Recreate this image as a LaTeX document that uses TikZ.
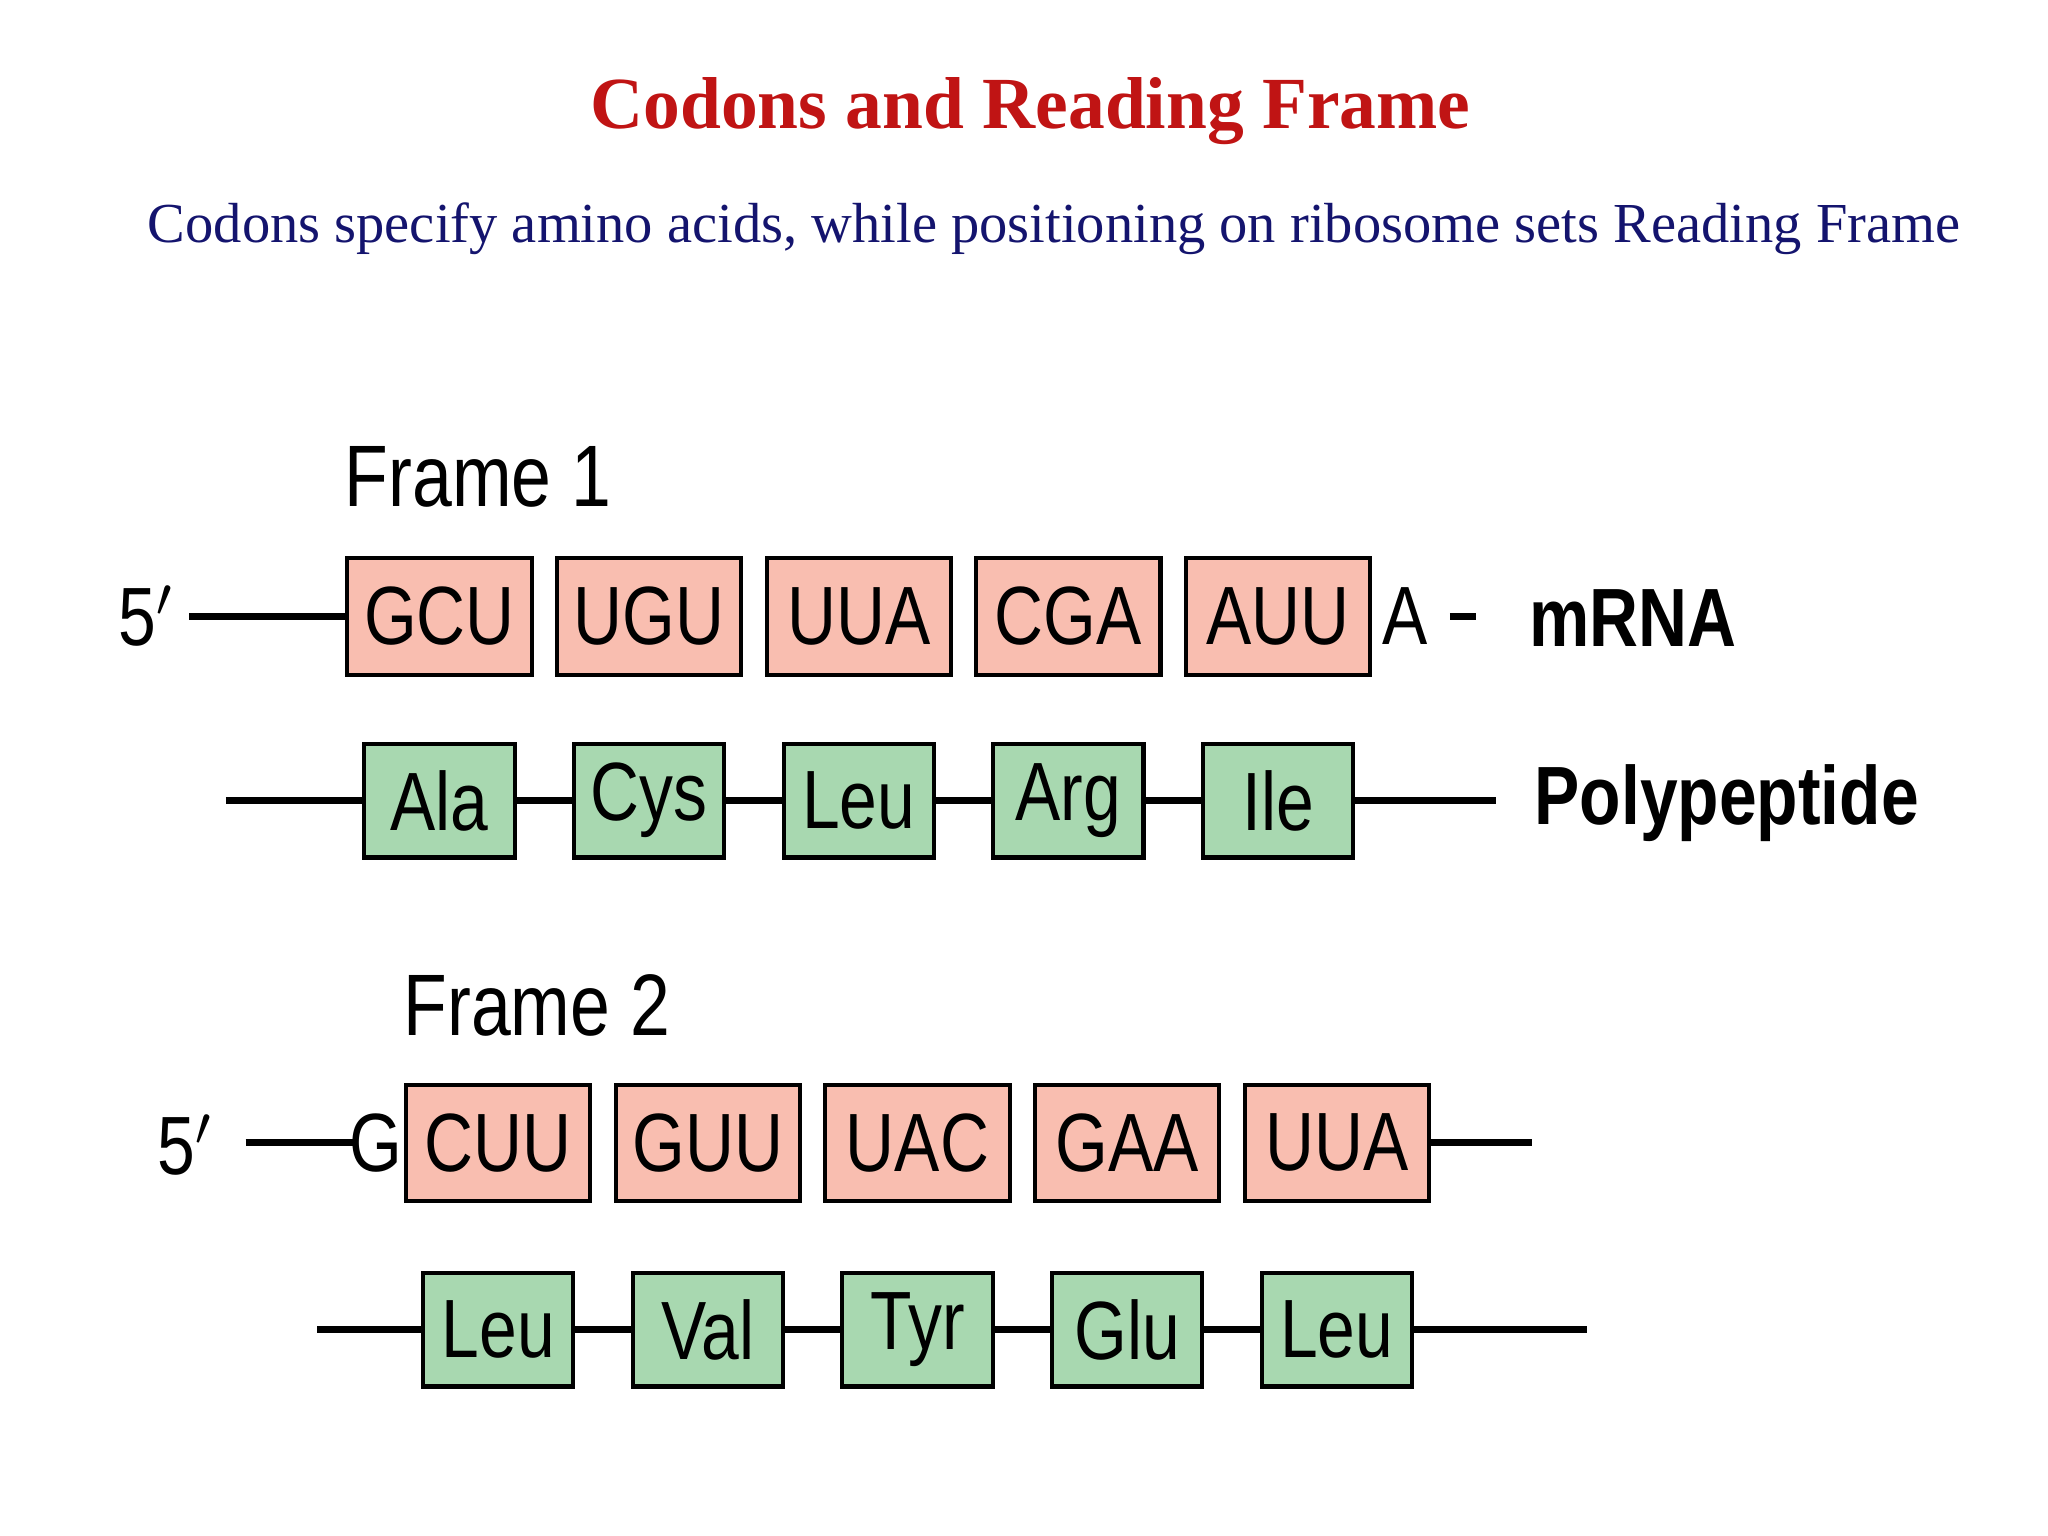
\documentclass[tikz,border=0pt]{standalone}
\usepackage{fontspec}
\setmainfont{Liberation Serif}
\newfontfamily\dsans[FakeStretch=0.82]{Liberation Sans}
\definecolor{ttl}{RGB}{192,20,20}
\definecolor{sub}{RGB}{20,20,110}
\definecolor{pinkbox}{RGB}{249,190,176}
\definecolor{greenbox}{RGB}{168,216,176}
\begin{document}
\begin{tikzpicture}[x=0.01cm,y=-0.01cm,
  codon/.style={draw=black,line width=0.9pt,fill=pinkbox,minimum width=1.41cm,minimum height=0.89cm,inner sep=0pt,font=\dsans\fontsize{18}{18}\selectfont},
  amino/.style={draw=black,line width=0.9pt,fill=greenbox,minimum width=1.15cm,minimum height=0.87cm,inner sep=0pt,font=\dsans\fontsize{18}{18}\selectfont},
  lbl/.style={font=\dsans\fontsize{18}{18}\selectfont,inner sep=0pt},
  bold/.style={font=\dsans\bfseries\fontsize{18}{18}\selectfont,inner sep=0pt},
  chain/.style={line width=1.5pt}]
\useasboundingbox (0,0) rectangle (1568,1176);
\node[text=ttl,font=\bfseries\fontsize{16}{16}\selectfont] (title) at (789,85) {Codons and Reading Frame};
\node[text=sub,font=\fontsize{12.3}{12}\selectfont] (subtitle) at (807,175) {Codons specify amino acids, while positioning on ribosome sets Reading Frame};
% Frame 1
\node[lbl,font=\dsans\fontsize{19}{19}\selectfont] (f1) at (366,365) {Frame 1};
\node[lbl] (p1) at (112,472) {5$'$};
\coordinate (l1s) at (145,472);
\foreach \t [count=\i] in {GCU,UGU,UUA,CGA,AUU}
  \node[codon] (a\i) at ({336.5+160.5*(\i-1)},472) {\t};
\draw[chain] (l1s) -- (a1.west);
\node[lbl,anchor=west] (A1) at (1058,472) {A};
\coordinate (d1s) at (1110,472); \coordinate (d1e) at (1130,472);
\draw[chain] (d1s) -- (d1e);
\node[bold] (mrna) at (1250,473) {mRNA};
\coordinate (q1s) at (173,613); \coordinate (q1e) at (1145,613);
\draw[chain] (q1s) -- (q1e);
\foreach \t [count=\i] in {Ala,Cys,Leu,Arg,Ile}
  \node[amino] (b\i) at ({336.5+160.5*(\i-1)},613) {\t};
\node[bold] (poly) at (1322,615) {Polypeptide};
% Frame 2
\node[lbl,font=\dsans\fontsize{19}{19}\selectfont] (f2) at (411,770) {Frame 2};
\node[lbl] (p2) at (142,877) {5$'$};
\coordinate (l2s) at (188,875); \coordinate (l2e) at (270,875);
\draw[chain] (l2s) -- (l2e);
\node[lbl] (G2) at (288,875) {G};
\foreach \t [count=\i] in {CUU,GUU,UAC,GAA,UUA}
  \node[codon] (c\i) at ({381.5+160.5*(\i-1)},875) {\t};
\coordinate (l3e) at (1173,875);
\draw[chain] (c5.east) -- (l3e);
\coordinate (q2s) at (243,1018); \coordinate (q2e) at (1215,1018);
\draw[chain] (q2s) -- (q2e);
\foreach \t [count=\i] in {Leu,Val,Tyr,Glu,Leu}
  \node[amino] (e\i) at ({381.5+160.5*(\i-1)},1018) {\t};
\end{tikzpicture}
\end{document}
